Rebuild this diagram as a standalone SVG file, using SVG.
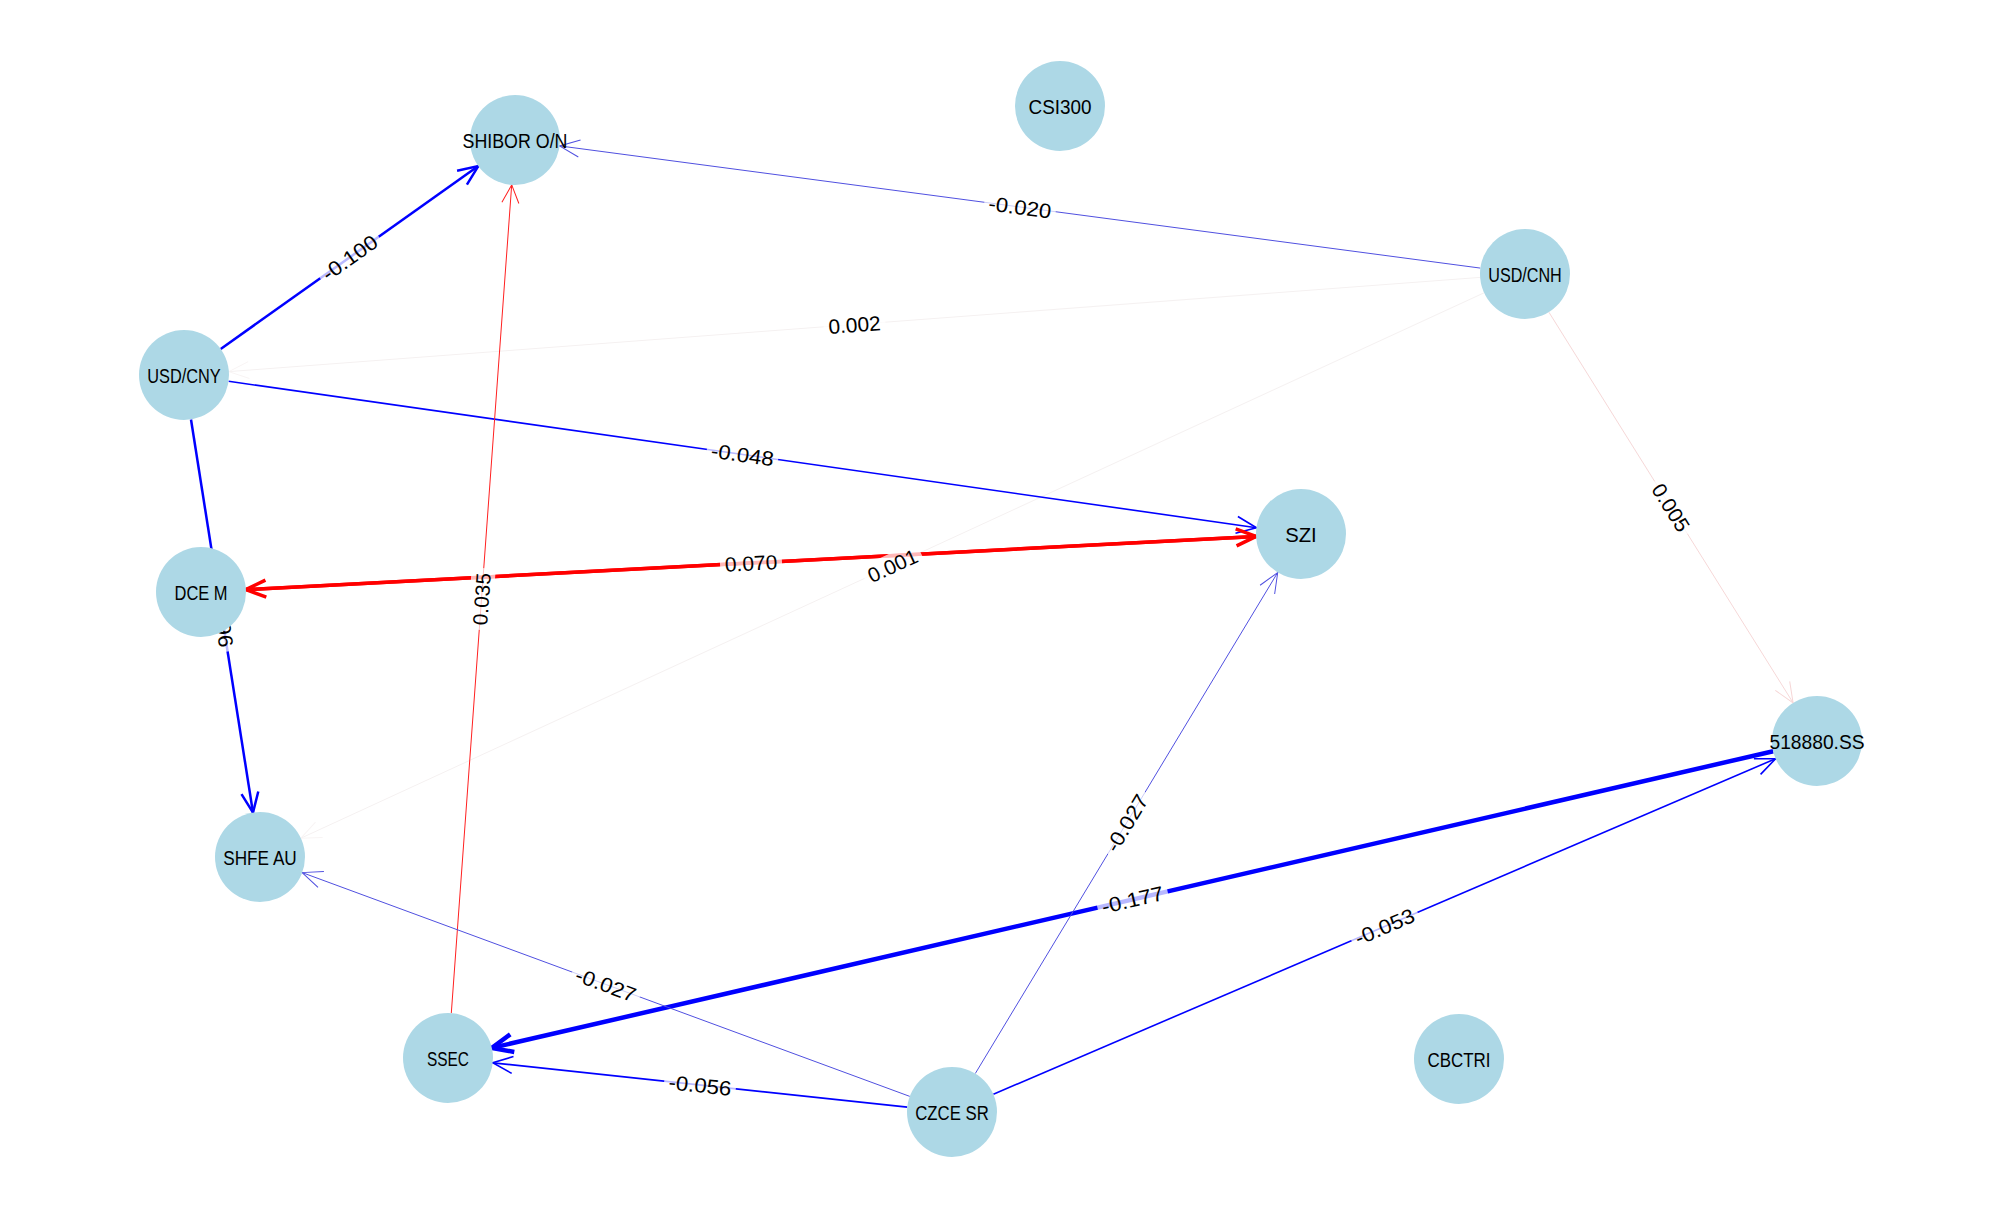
<svg xmlns="http://www.w3.org/2000/svg" width="2000" height="1227" viewBox="0 0 2000 1227">
<style>
.node circle{fill:#add8e6}
.node text{font-family:"Liberation Sans",Arial,sans-serif;font-size:20.5px;fill:#000;text-anchor:middle;dominant-baseline:central}
.lbl rect{fill:#fff;fill-opacity:0.72}
.lbl text{font-family:"Liberation Sans",Arial,sans-serif;font-size:20.5px;fill:#000;text-anchor:middle;dominant-baseline:central}
.e{fill:none;stroke-linecap:butt}
</style>
<defs>
<marker id="aB" markerUnits="userSpaceOnUse" viewBox="-26 -13 30 26" markerWidth="30" markerHeight="26" refX="0" refY="0" orient="auto" overflow="visible"><path d="M-20,-8.5 L0,0 L-20,8.5" fill="none" stroke="#0000ff" stroke-width="2.5"/></marker>
<marker id="aBT" markerUnits="userSpaceOnUse" viewBox="-26 -13 30 26" markerWidth="30" markerHeight="26" refX="0" refY="0" orient="auto" overflow="visible"><path d="M-21,-9 L0,0 L-21,9" fill="none" stroke="#0000ff" stroke-width="4.5"/></marker>
<marker id="aBM" markerUnits="userSpaceOnUse" viewBox="-26 -13 30 26" markerWidth="30" markerHeight="26" refX="0" refY="0" orient="auto" overflow="visible"><path d="M-20,-8.5 L0,0 L-20,8.5" fill="none" stroke="#0000ff" stroke-width="1.6"/></marker>
<marker id="aBL" markerUnits="userSpaceOnUse" viewBox="-26 -13 30 26" markerWidth="30" markerHeight="26" refX="0" refY="0" orient="auto" overflow="visible"><path d="M-20,-8.5 L0,0 L-20,8.5" fill="none" stroke="#5050e0" stroke-width="1"/></marker>
<marker id="aR" markerUnits="userSpaceOnUse" viewBox="-26 -13 30 26" markerWidth="30" markerHeight="26" refX="0" refY="0" orient="auto" overflow="visible"><path d="M-20,-8.5 L0,0 L-20,8.5" fill="none" stroke="#ff0000" stroke-width="3.5"/></marker>
<marker id="aRL" markerUnits="userSpaceOnUse" viewBox="-26 -13 30 26" markerWidth="30" markerHeight="26" refX="0" refY="0" orient="auto" overflow="visible"><path d="M-18,-8.5 L0,0 L-18,8.5" fill="none" stroke="#ff2020" stroke-width="1"/></marker>
<marker id="aP" markerUnits="userSpaceOnUse" viewBox="-26 -13 30 26" markerWidth="30" markerHeight="26" refX="0" refY="0" orient="auto" overflow="visible"><path d="M-20,-8.5 L0,0 L-20,8.5" fill="none" stroke="#f6d6d6" stroke-width="1"/></marker>
<marker id="aF" markerUnits="userSpaceOnUse" viewBox="-26 -13 30 26" markerWidth="30" markerHeight="26" refX="0" refY="0" orient="auto" overflow="visible"><path d="M-20,-8.5 L0,0 L-20,8.5" fill="none" stroke="#f8f4f4" stroke-width="1"/></marker>
</defs>
<rect width="2000" height="1227" fill="#fff"/>
<g id="connectors">
<line class="e" x1="1480.1" y1="277.4" x2="228.9" y2="371.6" stroke="#f5f1f1" stroke-width="1" marker-end="url(#aF)"/>
<line class="e" x1="1484.1" y1="292.8" x2="300.9" y2="838.2" stroke="#f5f1f1" stroke-width="1" marker-end="url(#aF)"/>
<line class="e" x1="1548.9" y1="312.2" x2="1793.1" y2="702.8" stroke="#f6d8d8" stroke-width="1" marker-end="url(#aP)"/>
<line class="e" x1="1480.4" y1="268.1" x2="559.6" y2="145.9" stroke="#5050e0" stroke-width="1" marker-end="url(#aBL)"/>
<line class="e" x1="220.7" y1="348.9" x2="478.3" y2="166.1" stroke="#0000ff" stroke-width="2.5" marker-end="url(#aB)"/>
<line class="e" x1="228.6" y1="381.3" x2="1256.5" y2="527.7" stroke="#0000ff" stroke-width="1.6" marker-end="url(#aBM)"/>
<line class="e" x1="191.0" y1="419.5" x2="253.0" y2="812.6" stroke="#0000ff" stroke-width="2.5" marker-end="url(#aB)"/>
<line class="e" x1="245.9" y1="589.6" x2="1256.1" y2="536.4" stroke="#ff0000" stroke-width="3.5" marker-end="url(#aR)"/>
<line class="e" x1="1256.1" y1="536.4" x2="245.9" y2="589.6" stroke="#ff0000" stroke-width="3.5" marker-end="url(#aR)"/>
<line class="e" x1="451.3" y1="1013.1" x2="511.7" y2="184.9" stroke="#ff2020" stroke-width="1" marker-end="url(#aRL)"/>
<line class="e" x1="1773.2" y1="751.2" x2="491.8" y2="1047.9" stroke="#0000ff" stroke-width="4.5" marker-end="url(#aBT)"/>
<line class="e" x1="993.4" y1="1094.3" x2="1775.6" y2="758.7" stroke="#0000ff" stroke-width="1.6" marker-end="url(#aBM)"/>
<line class="e" x1="975.3" y1="1073.5" x2="1277.7" y2="572.5" stroke="#5050e0" stroke-width="1" marker-end="url(#aBL)"/>
<line class="e" x1="909.8" y1="1096.4" x2="302.2" y2="872.6" stroke="#5050e0" stroke-width="1" marker-end="url(#aBL)"/>
<line class="e" x1="907.3" y1="1107.2" x2="492.7" y2="1062.8" stroke="#0000ff" stroke-width="1.8" marker-end="url(#aBM)"/>
</g>
<g id="edge-labels">
<g class="lbl" transform="translate(349.5,257.5) rotate(-35.37)"><rect x="-36" y="-12" width="72" height="24" rx="4"/><text textLength="63" lengthAdjust="spacingAndGlyphs">-0.100</text></g>
<g class="lbl" transform="translate(1020,207) rotate(7.56)"><rect x="-36" y="-12" width="72" height="24" rx="4"/><text textLength="63" lengthAdjust="spacingAndGlyphs">-0.020</text></g>
<g class="lbl" transform="translate(854.5,324.5) rotate(-4.31)"><rect x="-31" y="-12" width="62" height="24" rx="4"/><text textLength="52.5" lengthAdjust="spacingAndGlyphs">0.002</text></g>
<g class="lbl" transform="translate(742.5,454.5) rotate(8.10)"><rect x="-36" y="-12" width="72" height="24" rx="4"/><text textLength="63" lengthAdjust="spacingAndGlyphs">-0.048</text></g>
<g class="lbl" transform="translate(222,616) rotate(81.04)"><rect x="-36" y="-12" width="72" height="24" rx="4"/><text textLength="63" lengthAdjust="spacingAndGlyphs">-0.096</text></g>
<g class="lbl" transform="translate(751,563) rotate(-3.02)"><rect x="-31" y="-12" width="62" height="24" rx="4"/><text textLength="52.5" lengthAdjust="spacingAndGlyphs">0.070</text></g>
<g class="lbl" transform="translate(892.5,565.5) rotate(-24.74)"><rect x="-31" y="-12" width="62" height="24" rx="4"/><text textLength="52.5" lengthAdjust="spacingAndGlyphs">0.001</text></g>
<g class="lbl" transform="translate(1671,507.5) rotate(57.98)"><rect x="-31" y="-12" width="62" height="24" rx="4"/><text textLength="52.5" lengthAdjust="spacingAndGlyphs">0.005</text></g>
<g class="lbl" transform="translate(481.5,599) rotate(-85.83)"><rect x="-31" y="-12" width="62" height="24" rx="4"/><text textLength="52.5" lengthAdjust="spacingAndGlyphs">0.035</text></g>
<g class="lbl" transform="translate(1132.5,899.5) rotate(-13.04)"><rect x="-36" y="-12" width="72" height="24" rx="4"/><text textLength="63" lengthAdjust="spacingAndGlyphs">-0.177</text></g>
<g class="lbl" transform="translate(1384.5,926.5) rotate(-23.22)"><rect x="-36" y="-12" width="72" height="24" rx="4"/><text textLength="63" lengthAdjust="spacingAndGlyphs">-0.053</text></g>
<g class="lbl" transform="translate(1126.5,823) rotate(-58.87)"><rect x="-36" y="-12" width="72" height="24" rx="4"/><text textLength="63" lengthAdjust="spacingAndGlyphs">-0.027</text></g>
<g class="lbl" transform="translate(606,984.5) rotate(20.23)"><rect x="-36" y="-12" width="72" height="24" rx="4"/><text textLength="63" lengthAdjust="spacingAndGlyphs">-0.027</text></g>
<g class="lbl" transform="translate(700,1085) rotate(6.12)"><rect x="-36" y="-12" width="72" height="24" rx="4"/><text textLength="63" lengthAdjust="spacingAndGlyphs">-0.056</text></g>
</g>
<g id="node-shibor" class="node"><circle cx="515" cy="140" r="45"/><text x="515" y="140" textLength="105" lengthAdjust="spacingAndGlyphs">SHIBOR O/N</text></g>
<g id="node-csi300" class="node"><circle cx="1060" cy="106" r="45"/><text x="1060" y="106" textLength="63" lengthAdjust="spacingAndGlyphs">CSI300</text></g>
<g id="node-usdcnh" class="node"><circle cx="1525" cy="274" r="45"/><text x="1525" y="274" textLength="73.5" lengthAdjust="spacingAndGlyphs">USD/CNH</text></g>
<g id="node-usdcny" class="node"><circle cx="184" cy="375" r="45"/><text x="184" y="375" textLength="73.5" lengthAdjust="spacingAndGlyphs">USD/CNY</text></g>
<g id="node-szi" class="node"><circle cx="1301" cy="534" r="45"/><text x="1301" y="534" textLength="31.5" lengthAdjust="spacingAndGlyphs">SZI</text></g>
<g id="node-dcem" class="node"><circle cx="201" cy="592" r="45"/><text x="201" y="592" textLength="53" lengthAdjust="spacingAndGlyphs">DCE M</text></g>
<g id="node-518880" class="node"><circle cx="1817" cy="741" r="45"/><text x="1817" y="741" textLength="95" lengthAdjust="spacingAndGlyphs">518880.SS</text></g>
<g id="node-shfeau" class="node"><circle cx="260" cy="857" r="45"/><text x="260" y="857" textLength="73.5" lengthAdjust="spacingAndGlyphs">SHFE AU</text></g>
<g id="node-ssec" class="node"><circle cx="448" cy="1058" r="45"/><text x="448" y="1058" textLength="42" lengthAdjust="spacingAndGlyphs">SSEC</text></g>
<g id="node-czcesr" class="node"><circle cx="952" cy="1112" r="45"/><text x="952" y="1112" textLength="73.5" lengthAdjust="spacingAndGlyphs">CZCE SR</text></g>
<g id="node-cbctri" class="node"><circle cx="1459" cy="1059" r="45"/><text x="1459" y="1059" textLength="63" lengthAdjust="spacingAndGlyphs">CBCTRI</text></g>
</svg>
